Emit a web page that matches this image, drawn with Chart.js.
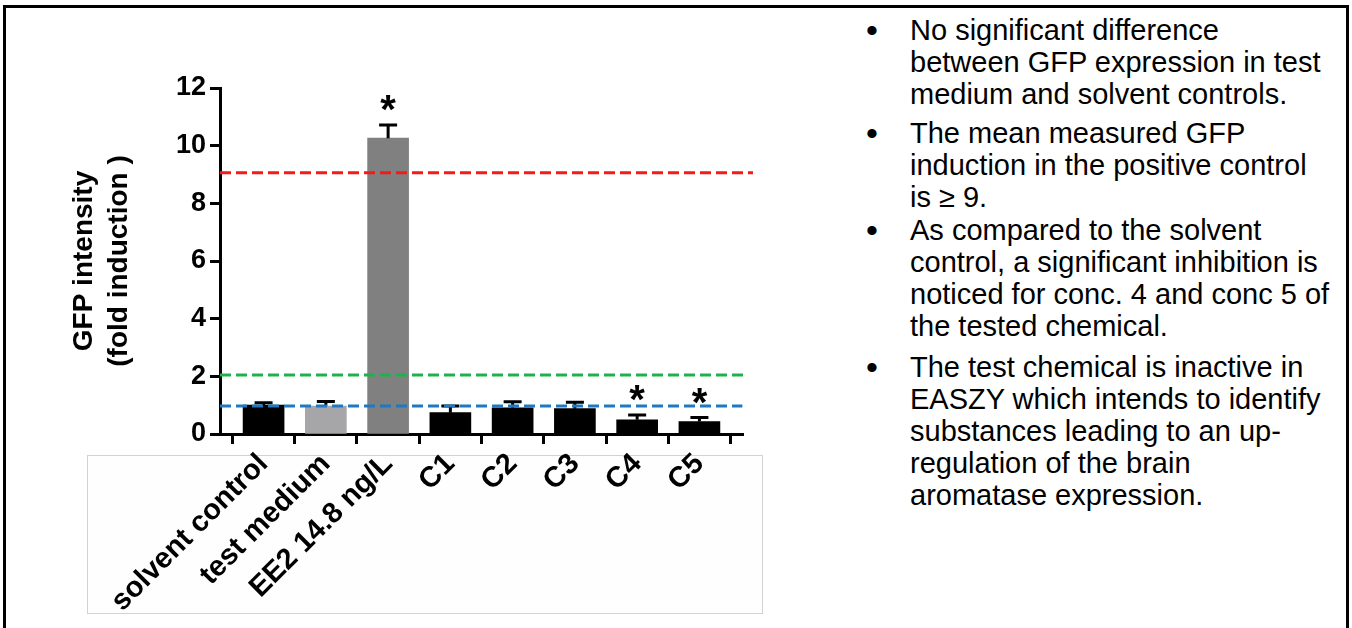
<!DOCTYPE html>
<html>
<head>
<meta charset="utf-8">
<script src="https://cdn.jsdelivr.net/npm/chart.js@4.4.1/dist/chart.umd.min.js"></script>
<style>
  html, body { margin: 0; padding: 0; background: #fff; }
  body { width: 1352px; height: 628px; position: relative; overflow: hidden; font-family: "Liberation Sans", Arial, sans-serif; }
  #frame { position: absolute; left: 3px; top: 5px; width: 1340px; height: 700px; border: 3px solid #000; }
  #labelBox { position: absolute; left: 87px; top: 455px; width: 674px; height: 157px; border: 1px solid #d2d2d2; background: #fefefe; }
  #chartWrap { position: absolute; left: 0; top: 0; width: 800px; height: 628px; }
  .para { position: absolute; left: 910px; font-size: 29px; line-height: 32px; color: #000; white-space: nowrap; }
  .para::before { content: "\2022"; position: absolute; left: -44px; top: 0; font-size: 34px; }
</style>
</head>
<body>
<div id="frame"></div>
<div id="labelBox"></div>
<div id="chartWrap"><canvas id="chart" width="800" height="628"></canvas></div>
<div class="para" style="top:14px">No significant difference<br>between GFP expression in test<br>medium and solvent controls.</div>
<div class="para" style="top:117px">The mean measured GFP<br>induction in the positive control<br>is ≥ 9.</div>
<div class="para" style="top:214px">As compared to the solvent<br>control, a significant inhibition is<br>noticed for conc. 4 and conc 5 of<br>the tested chemical.</div>
<div class="para" style="top:351px">The test chemical is inactive in<br>EASZY which intends to identify<br>substances leading to an up-<br>regulation of the brain<br>aromatase expression.</div>
<script>
  const categories = ['solvent control', 'test medium', 'EE2 14.8 ng/L', 'C1', 'C2', 'C3', 'C4', 'C5'];
  const means = [1.0, 0.97, 10.26, 0.74, 0.91, 0.88, 0.49, 0.43];
  const errors = [0.08, 0.16, 0.46, 0.23, 0.21, 0.22, 0.17, 0.14];
  const significant = [false, false, true, false, false, false, true, true];
  const yTickValues = [0, 2, 4, 6, 8, 10, 12];
  const positiveControlLimit = 9.06;
  const upperLimit = 2.05;
  const solventLevel = 0.97;

  const barColors = ['#000000', '#a6a6a9', '#808080', '#000000', '#000000', '#000000', '#000000', '#000000'];
  const X_MIN = -0.7;
  const X_MAX = 7.7;
  const FONT = '"Liberation Sans", Arial, sans-serif';

  function refLine(y, end, color) {
    return {
      type: 'line',
      data: [{ x: X_MIN, y }, { x: end, y }],
      borderColor: color,
      borderWidth: 3,
      borderDash: [11, 5],
      pointRadius: 0,
      clip: false,
      order: 1,
    };
  }

  // error bars + significance stars on top of the bars
  const errorBars = {
    id: 'errorBars',
    afterDatasetDraw(chart, args) {
      if (args.index !== 0) return;
      const { ctx, scales: { x, y } } = chart;
      ctx.save();
      ctx.strokeStyle = '#000';
      ctx.lineWidth = 3;
      ctx.fillStyle = '#000';
      ctx.font = 'bold 40px ' + FONT;
      ctx.textAlign = 'center';
      ctx.textBaseline = 'alphabetic';
      means.forEach((m, i) => {
        const px = x.getPixelForValue(i);
        const top = y.getPixelForValue(m);
        const cap = y.getPixelForValue(m + errors[i]);
        ctx.beginPath();
        ctx.moveTo(px, top);
        ctx.lineTo(px, cap);
        ctx.moveTo(px - 9, cap);
        ctx.lineTo(px + 9, cap);
        ctx.stroke();
        if (significant[i]) ctx.fillText('*', px, cap - 2);
      });
      ctx.restore();
    },
  };

  new Chart(document.getElementById('chart'), {
    type: 'bar',
    data: {
      datasets: [
        {
          data: means.map((v, i) => ({ x: i, y: v })),
          backgroundColor: barColors,
          barThickness: 41,
          order: 2,
        },
        refLine(positiveControlLimit, 7.86, '#f21b1b'),
        refLine(upperLimit, 7.72, '#1fb24a'),
        refLine(solventLevel, 7.69, '#1f78c6'),
      ],
    },
    options: {
      responsive: false,
      animation: false,
      layout: { padding: { left: 50, top: 88, right: 57, bottom: 0 } },
      plugins: { legend: { display: false }, tooltip: { enabled: false } },
      scales: {
        x: {
          type: 'linear',
          offset: false,
          min: X_MIN,
          max: X_MAX,
          afterBuildTicks: (scale) => { scale.ticks = categories.map((c, i) => ({ value: i })); },
          afterFit: (scale) => { scale.height = 194; },
          border: { display: true, color: '#000', width: 3 },
          grid: { display: true, drawOnChartArea: false, drawTicks: true, tickLength: 10, tickWidth: 3, tickColor: '#000' },
          ticks: {
            autoSkip: false,
            minRotation: 45,
            maxRotation: 45,
            padding: 3,
            color: '#000',
            font: { family: FONT, size: 29, weight: 'bold' },
            callback: (v) => categories[v],
          },
        },
        y: {
          min: 0,
          max: 12,
          afterBuildTicks: (scale) => { scale.ticks = yTickValues.map((v) => ({ value: v })); },
          afterFit: (scale) => { scale.width = 170; },
          border: { display: true, color: '#000', width: 3 },
          grid: { display: true, drawOnChartArea: false, drawTicks: true, tickLength: 10, tickWidth: 3, tickColor: '#000' },
          ticks: {
            padding: 4,
            color: '#000',
            font: { family: FONT, size: 27, weight: 'bold' },
          },
          title: {
            display: true,
            text: ['GFP intensity', '(fold induction )'],
            color: '#000',
            padding: { top: 17, bottom: 0 },
            font: { family: FONT, size: 28, weight: 'bold', lineHeight: '35px' },
          },
        },
      },
    },
    plugins: [errorBars],
  });
</script>
</body>
</html>
